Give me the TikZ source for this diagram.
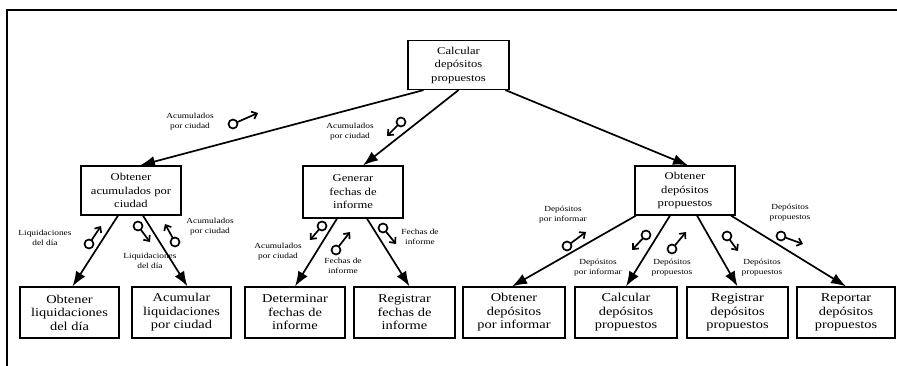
\documentclass[tikz,border=0pt]{standalone}
\usepackage{fontspec}
\setmainfont{Liberation Serif}[FakeStretch=1.2]
\usetikzlibrary{arrows.meta, positioning}

\begin{document}
\begin{tikzpicture}[x=1pt, y=-1pt,
					proc/.style={rectangle, draw, line width=1.2pt, minimum width=100pt, minimum height=49pt,
						inner sep=1pt, align=center, font=\fontsize{10.5}{13.5}\selectfont},
					leaf/.style={proc, minimum height=51pt, font=\fontsize{12}{13.5}\selectfont},
					flow/.style={-{Latex[length=15pt,width=11pt]}, line width=1.7pt},
					couple/.style={circle, draw, line width=1.7pt, inner sep=0pt, minimum size=9pt},
					cflow/.style={-{Straight Barb[length=4.5pt,width=8pt]}, line width=1.7pt, shorten <=-0.5pt},
					lbl/.style={font=\fontsize{7.8}{10}\selectfont, align=center, inner sep=0pt},
					frame/.style={line width=1.8pt}
					]
					\useasboundingbox (0,0) rectangle (897,366);
					\draw[frame] (7,366) -- (7,10) -- (897,10);
					
					% --- Top and first level ---
					\node[proc, minimum width=101pt] (calc) at (458.5,65) {Calcular\\ depósitos\\ propuestos};
					\node[proc] (acum) at (131,190.5) {Obtener\\ acumulados por\\ ciudad};
					\node[proc, minimum height=52pt] (gen) at (353,192) {Generar\\ fechas de\\ informe};
					\node[proc] (obt) at (685,190.5) {Obtener\\ depósitos\\ propuestos};
					
					% --- Leaves ---
					\node[leaf, minimum width=99pt] (liq) at (69.5,312.5) {Obtener\\ liquidaciones\\ del día};
					\node[leaf, minimum width=99pt] (acl) at (181.5,312.5) {Acumular\\ liquidaciones\\ por ciudad};
					\node[leaf] (det) at (295,312.5) {Determinar\\ fechas de\\ informe};
					\node[leaf, minimum width=101pt] (reg) at (404.5,312.5) {Registrar\\ fechas de\\ informe};
					\node[leaf, minimum width=102pt] (dpi) at (514,312.5) {Obtener\\ depósitos\\ por informar};
					\node[leaf, minimum width=102pt] (cdp) at (626,312.5) {Calcular\\ depósitos\\ propuestos};
					\node[leaf, minimum width=101pt] (rdp) at (737.5,312.5) {Registrar\\ depósitos\\ propuestos};
					\node[leaf, minimum width=98pt] (pdp) at (846,312.5) {Reportar\\ depósitos\\ propuestos};
					
					% --- Calls ---
					\draw[flow] ([xshift=-35pt]calc.south) -- ([xshift=9pt]acum.north);
					\draw[flow] (calc.south) -- ([xshift=10pt]gen.north);
					\draw[flow] ([xshift=47pt]calc.south) -- ([xshift=3pt]obt.north);
					\draw[flow] ([xshift=-13pt]acum.south) -- ([xshift=3pt]liq.north);
					\draw[flow] ([xshift=12pt]acum.south) -- ([xshift=6pt]acl.north);
					\draw[flow] ([xshift=-16pt]gen.south) -- (det.north);
					\draw[flow] ([xshift=14pt]gen.south) -- ([xshift=5pt]reg.north);
					\draw[flow] ([xshift=-49pt]obt.south) -- ([xshift=-2pt]dpi.north);
					\draw[flow] ([xshift=-15pt]obt.south) -- (cdp.north);
					\draw[flow] ([xshift=12pt]obt.south) -- (rdp.north);
					\draw[flow] ([xshift=46pt]obt.south) -- (pdp.north);
					
					% --- Data couples ---
					\node[lbl] (t1) at (190,122) {Acumulados\\ por ciudad};
					\node[couple] (k1) at (233,124) {};
					\coordinate (k1e) at (258,113);
					\draw[cflow] (k1) -- (k1e);
					
					\node[lbl] (t2) at (350,132) {Acumulados\\ por ciudad};
					\node[couple] (k2) at (401,122) {};
					\coordinate (k2e) at (387,136);
					\draw[cflow] (k2) -- (k2e);
					
					\node[lbl] (t3) at (45,238) {Liquidaciones\\ del día};
					\node[couple] (k3) at (89,244) {};
					\coordinate (k3e) at (101,226);
					\draw[cflow] (k3) -- (k3e);
					
					\node[lbl] (t4) at (150,261) {Liquidaciones\\ del día};
					\node[couple] (k4) at (138,226) {};
					\coordinate (k4e) at (150,242);
					\draw[cflow] (k4) -- (k4e);
					
					\node[lbl] (t5) at (210,227) {Acumulados\\ por ciudad};
					\node[couple] (k5) at (175,242) {};
					\coordinate (k5e) at (165,224);
					\draw[cflow] (k5) -- (k5e);
					
					\node[lbl] (t6) at (278,252) {Acumulados\\ por ciudad};
					\node[couple] (k6) at (322,226) {};
					\coordinate (k6e) at (310,240);
					\draw[cflow] (k6) -- (k6e);
					
					\node[lbl] (t7) at (343,266) {Fechas de\\ informe};
					\node[couple] (k7) at (336,250) {};
					\coordinate (k7e) at (350,232);
					\draw[cflow] (k7) -- (k7e);
					
					\node[lbl] (t8) at (420,237) {Fechas de\\ informe};
					\node[couple] (k8) at (383,228) {};
					\coordinate (k8e) at (396,244);
					\draw[cflow] (k8) -- (k8e);
					
					\node[lbl] (t9) at (563,215) {Depósitos\\ por informar};
					\node[couple] (k9) at (567,246) {};
					\coordinate (k9e) at (586,232);
					\draw[cflow] (k9) -- (k9e);
					
					\node[lbl] (t10) at (598,268) {Depósitos\\ por informar};
					\node[couple] (k10) at (646,235) {};
					\coordinate (k10e) at (632,250);
					\draw[cflow] (k10) -- (k10e);
					
					\node[lbl] (t11) at (672,268) {Depósitos\\ propuestos};
					\node[couple] (k11) at (672,249) {};
					\coordinate (k11e) at (686,232);
					\draw[cflow] (k11) -- (k11e);
					
					\node[lbl] (t12) at (762,268) {Depósitos\\ propuestos};
					\node[couple] (k12) at (727,236) {};
					\coordinate (k12e) at (738,251);
					\draw[cflow] (k12) -- (k12e);
					
					\node[lbl] (t13) at (790,213) {Depósitos\\ propuestos};
					\node[couple] (k13) at (781,236) {};
					\coordinate (k13e) at (803,244);
					\draw[cflow] (k13) -- (k13e);
				\end{tikzpicture}
\end{document}
